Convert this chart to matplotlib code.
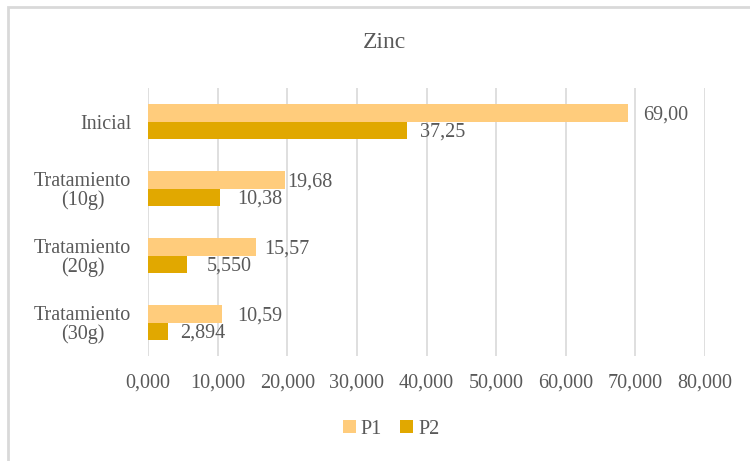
import matplotlib
matplotlib.use("Agg")
import matplotlib.pyplot as plt
import matplotlib.patches as mpatches
from matplotlib.ticker import FuncFormatter, MultipleLocator
import numpy as np

# ---- data ----
categories = ["Inicial", "Tratamiento\n(10g)", "Tratamiento\n(20g)", "Tratamiento\n(30g)"]
p1_values = [69.00, 19.68, 15.57, 10.59]
p2_values = [37.25, 10.38, 5.550, 2.894]
series_names = ["P1", "P2"]
chart_title = "Zinc"

# ---- styles ----
C_P1 = "#FFCC7C"
C_P2 = "#E1A800"
TXT = "#595959"
GRID = "#D9D9D9"
FONT = ["Liberation Serif", "DejaVu Serif"]
FS = 14.5

# label offsets in pixels (to the right of bar end)
p1_off = [15, 2, 8, 15]
p2_off = [13, 17, 20, 12]

plt.rcParams["font.family"] = FONT

fig = plt.figure(figsize=(7.5, 4.61), dpi=100)
W, H = 750, 461
ax = fig.add_axes([148 / W, 1 - 356 / H, (705 - 148) / W, (356 - 88) / H])

y = np.arange(len(categories))
bh = 0.255
ax.barh(y - bh / 2, p1_values, height=bh, color=C_P1, label=series_names[0], zorder=3)
ax.barh(y + bh / 2, p2_values, height=bh, color=C_P2, label=series_names[1], zorder=3)

def fmt4(v):
    nint = len(str(int(abs(v)))) if abs(v) >= 1 else 1
    dec = max(0, 4 - nint)
    return f"{v:.{dec}f}".replace(".", ",")

for i, v in enumerate(p1_values):
    ax.annotate(fmt4(v), xy=(v, y[i] - bh / 2), xytext=(p1_off[i] * 0.72, -1.4),
                textcoords="offset points", ha="left", va="center",
                fontsize=FS, color=TXT, zorder=4)
for i, v in enumerate(p2_values):
    ax.annotate(fmt4(v), xy=(v, y[i] + bh / 2), xytext=(p2_off[i] * 0.72, -1.4),
                textcoords="offset points", ha="left", va="center",
                fontsize=FS, color=TXT, zorder=4)

ax.set_xlim(0, 80)
ax.set_ylim(3.5, -0.5)
ax.xaxis.set_major_locator(MultipleLocator(10))
ax.xaxis.set_major_formatter(FuncFormatter(lambda x, p: f"{x:.3f}".replace(".", ",")))
ax.set_yticks(y)
ax.set_yticklabels(categories, multialignment="center", linespacing=1.0)
ax.tick_params(axis="y", length=0, pad=12, labelsize=FS, labelcolor=TXT)
ax.tick_params(axis="x", length=0, pad=12.5, labelsize=FS, labelcolor=TXT)
for lbl in ax.get_yticklabels():
    lbl.set_y(lbl.get_position()[1])
for s in ax.spines.values():
    s.set_visible(False)
ax.grid(axis="x", color=GRID, linewidth=1.2, zorder=0)
ax.set_axisbelow(True)

fig.text(384 / W, 1 - 42 / H, chart_title, ha="center", va="center",
         fontsize=17, color=TXT)

leg = fig.legend(loc="center", bbox_to_anchor=(391 / W, 1 - 429 / H), ncol=2,
                 frameon=False, fontsize=FS, handlelength=0.65, handleheight=0.65,
                 handletextpad=0.25, columnspacing=0.9, labelcolor=TXT)

# chart border (left and top visible; right/bottom cropped)
border = mpatches.Rectangle((8 / W, -0.2), 1.2, 1.2 - 7 / H, transform=fig.transFigure,
                            fill=False, edgecolor=GRID, linewidth=2.0)
fig.patches.append(border)

fig.savefig("out.png", dpi=100)
